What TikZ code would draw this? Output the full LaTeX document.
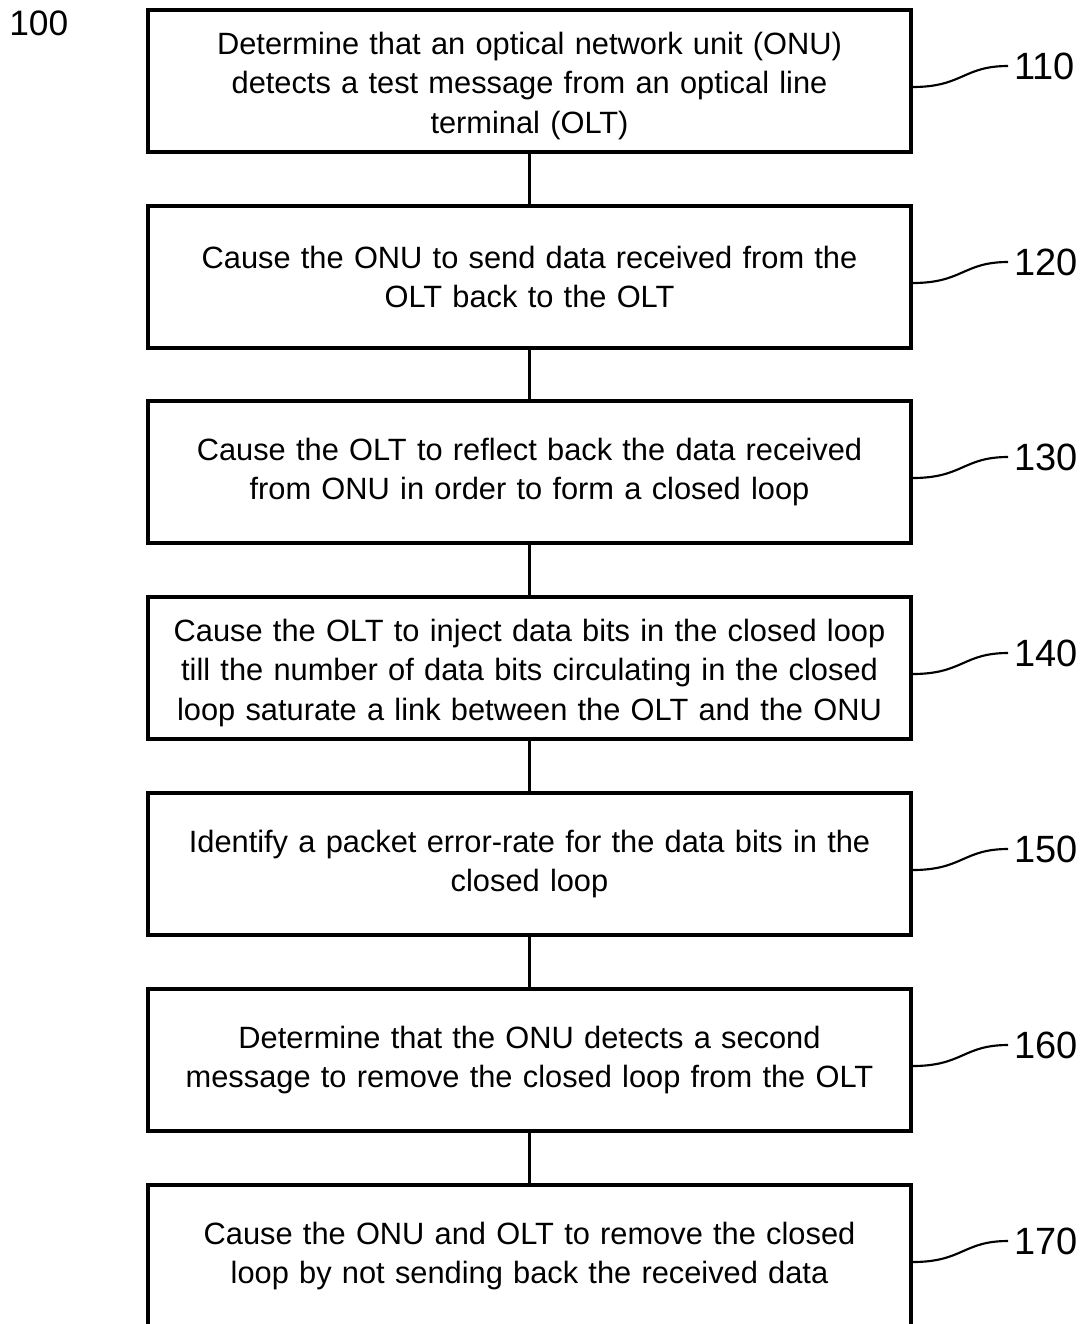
\documentclass[tikz,border=0pt]{standalone}
\usepackage{fontspec}
\setmainfont{Liberation Sans}
\newcommand{\topstrut}{\rule{0pt}{24pt}}
\begin{document}
\begin{tikzpicture}[x=0.75pt,y=-0.75pt,
  stepbox/.style={draw, line width=2.6pt, minimum width=763*0.75pt, minimum height=142*0.75pt,
    align=center, text width=735*0.75pt, inner sep=0pt,
    font=\fontsize{23.1}{29.8}\selectfont},
  link/.style={line width=2.4pt},
  leader/.style={line width=1.6pt},
  refnum/.style={anchor=west, inner sep=0pt, font=\fontsize{28.5}{31}\selectfont}]
\useasboundingbox (0,0) rectangle (1083,1324);
\clip (0,0) rectangle (1083,1324);

\node[anchor=west, inner sep=0pt, font=\fontsize{26.5}{29}\selectfont] (fig) at (9,23) {100};

\node[stepbox] (b1) at (529.5,81) {\topstrut Determine that an optical network unit (ONU)\\ detects a test message from an optical line\\ terminal (OLT)};
\node[stepbox] (b2) at (529.5,277) {Cause the ONU to send data received from the\\ OLT back to the OLT};
\node[stepbox] (b3) at (529.5,472) {Cause the OLT to reflect back the data received\\ from ONU in order to form a closed loop};
\node[stepbox] (b4) at (529.5,668) {\topstrut Cause the OLT to inject data bits in the closed loop\\ till the number of data bits circulating in the closed\\ loop saturate a link between the OLT and the ONU};
\node[stepbox] (b5) at (529.5,864) {Identify a packet error-rate for the data bits in the\\ closed loop};
\node[stepbox] (b6) at (529.5,1060) {Determine that the ONU detects a second\\ message to remove the closed loop from the OLT};
\node[stepbox] (b7) at (529.5,1256) {Cause the ONU and OLT to remove the closed\\ loop by not sending back the received data};

\foreach \a/\b in {b1/b2,b2/b3,b3/b4,b4/b5,b5/b6,b6/b7}
  \draw[link] (\a.south) -- (\b.north);

\foreach \i/\n/\y in {1/110/81,2/120/277,3/130/472,4/140/668,5/150/864,6/160/1060,7/170/1256}{
  \node[refnum] (r\i) at (1014,\y-15) {\n};
  \draw[leader] ([yshift=-6*0.75pt]b\i.east) .. controls +(50,0) and +(-45,0) .. ([xshift=-6*0.75pt]r\i.west);
}
\end{tikzpicture}
\end{document}
